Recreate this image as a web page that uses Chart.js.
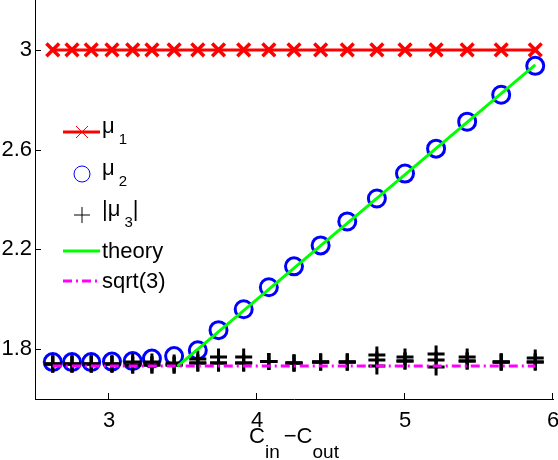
<!DOCTYPE html>
<html>
<head>
<meta charset="utf-8">
<script src="https://cdn.jsdelivr.net/npm/chart.js@4.4.1/dist/chart.umd.min.js"></script>
<style>
  html, body { margin: 0; padding: 0; background: #fff; }
  canvas { display: block; }
</style>
</head>
<body>
<canvas id="chart" width="558" height="460"></canvas>
<script>
// x values (c_in - c_out)
const cinMinusCout = [2.62, 2.75, 2.88, 3.02, 3.16, 3.29, 3.44, 3.60, 3.74, 3.91, 4.08, 4.25, 4.43, 4.61, 4.81, 5.00, 5.21, 5.42, 5.65, 5.88];

const mu1 = [3, 3, 3, 3, 3, 3, 3, 3, 3, 3, 3, 3, 3, 3, 3, 3, 3, 3, 3, 3];
const mu2 = [1.748, 1.748, 1.748, 1.750, 1.752, 1.762, 1.772, 1.795, 1.876, 1.960, 2.048, 2.132, 2.216, 2.312, 2.404, 2.504, 2.604, 2.712, 2.820, 2.936];

// |mu3| from several runs (they overlap)
const mu3RunA = [1.740, 1.740, 1.740, 1.740, 1.748, 1.748, 1.744, 1.744, 1.744, 1.744, 1.750, 1.744, 1.748, 1.748, 1.756, 1.752, 1.756, 1.752, 1.748, 1.748];
const mu3RunB = [1.740, 1.740, 1.740, 1.740, 1.736, 1.736, 1.736, 1.760, 1.768, 1.768, 1.750, 1.744, 1.748, 1.748, 1.776, 1.768, 1.780, 1.768, 1.748, 1.764];
const mu3RunC = [1.740, 1.740, 1.740, 1.740, 1.736, 1.736, 1.736, 1.744, 1.744, 1.744, 1.750, 1.744, 1.748, 1.748, 1.732, 1.752, 1.728, 1.752, 1.748, 1.748];

const theoryX = [3.464, 5.88];
const theoryY = [1.732, 2.94];
const sqrt3X = [2.62, 5.88];
const sqrt3Y = [1.732, 1.732];

const xTicks = [3, 4, 5, 6];
const yTicks = [1.8, 2.2, 2.6, 3];
const yTickLabels = ['1.8', '2.2', '2.6', '3'];

// legend text: [main, subscript, after]
const legendLabels = [['μ', '1', ''], ['μ', '2', ''], ['|μ', '3', '|'], ['theory', '', ''], ['sqrt(3)', '', '']];
const xTitleParts = [['C', 'in'], ['−C', 'out']];

const FONT = '"Liberation Sans", Arial, sans-serif';
const pts = (xs, ys) => xs.map((x, i) => ({ x: x, y: ys[i] }));

const plusStyle = (data) => ({
    data: data,
    showLine: false,
    pointStyle: 'cross',
    pointRadius: 8.5,
    pointBorderWidth: 3,
    pointBorderColor: '#000',
    order: 3
});

// legend + inward ticks + subscripted axis title
const extras = {
    id: 'extras',
    afterDraw(chart) {
        const ctx = chart.ctx;
        const { left, bottom } = chart.chartArea;
        const xs = chart.scales.x, ys = chart.scales.y;
        ctx.save();

        // MATLAB style ticks point inward
        ctx.strokeStyle = '#000';
        ctx.lineWidth = 1;
        ctx.beginPath();
        xTicks.forEach(v => {
            const px = Math.round(xs.getPixelForValue(v)) - 0.5;
            ctx.moveTo(px, bottom);
            ctx.lineTo(px, bottom - 6);
        });
        yTicks.forEach(v => {
            const py = Math.round(ys.getPixelForValue(v)) + 0.5;
            ctx.moveTo(left, py);
            ctx.lineTo(left + 6, py);
        });
        ctx.stroke();

        // legend
        const rowY = [132, 174, 215, 251, 281];
        const x0 = 63, x1 = 100, cx = 82, textX = 102;
        rowY.forEach((y, i) => {
            ctx.save();
            if (i === 0) {
                ctx.strokeStyle = '#ff0000'; ctx.lineWidth = 3;
                ctx.beginPath(); ctx.moveTo(x0, y); ctx.lineTo(x1, y); ctx.stroke();
                ctx.lineWidth = 1;
                ctx.beginPath();
                ctx.moveTo(cx - 6, y - 6); ctx.lineTo(cx + 6, y + 6);
                ctx.moveTo(cx - 6, y + 6); ctx.lineTo(cx + 6, y - 6);
                ctx.stroke();
            } else if (i === 1) {
                ctx.strokeStyle = '#0000ff'; ctx.lineWidth = 1;
                ctx.beginPath(); ctx.arc(cx, y, 8, 0, Math.PI * 2); ctx.stroke();
            } else if (i === 2) {
                ctx.strokeStyle = '#000'; ctx.lineWidth = 1;
                ctx.beginPath();
                ctx.moveTo(cx - 8, y); ctx.lineTo(cx + 8, y);
                ctx.moveTo(cx, y - 8); ctx.lineTo(cx, y + 8);
                ctx.stroke();
            } else if (i === 3) {
                ctx.strokeStyle = '#00ff00'; ctx.lineWidth = 3;
                ctx.beginPath(); ctx.moveTo(x0, y); ctx.lineTo(x1, y); ctx.stroke();
            } else {
                ctx.strokeStyle = '#ff00ff'; ctx.lineWidth = 3;
                ctx.setLineDash([9, 4, 2, 4]);
                ctx.beginPath(); ctx.moveTo(x0, y); ctx.lineTo(x1, y); ctx.stroke();
            }
            ctx.restore();

            const [main, sub, after] = legendLabels[i];
            ctx.fillStyle = '#000';
            ctx.textAlign = 'left';
            ctx.textBaseline = 'alphabetic';
            ctx.font = '22px ' + FONT;
            if (sub) {
                ctx.fillText(main, textX, y + 1);
                let tx = textX + ctx.measureText(main).width + 4;
                ctx.font = '15px ' + FONT;
                ctx.fillText(sub, tx, y + 12);
                tx += ctx.measureText(sub).width;
                ctx.font = '22px ' + FONT;
                if (after) ctx.fillText(after, tx, y + 1);
            } else {
                ctx.fillText(main, textX, y + 7);
            }
        });

        // x axis title C_in -C_out
        const mainFont = '22px ' + FONT, subFont = '19px ' + FONT;
        let total = 0;
        xTitleParts.forEach(([m, s], i) => {
            ctx.font = mainFont; total += ctx.measureText(m).width;
            ctx.font = subFont; total += ctx.measureText(s).width;
            if (i < xTitleParts.length - 1) total += 4;
        });
        let tx = (chart.chartArea.left + chart.chartArea.right) / 2 - total / 2;
        ctx.fillStyle = '#000';
        ctx.textAlign = 'left';
        xTitleParts.forEach(([m, s]) => {
            ctx.font = mainFont; ctx.fillText(m, tx, 443); tx += ctx.measureText(m).width;
            ctx.font = subFont; ctx.fillText(s, tx, 458); tx += ctx.measureText(s).width + 4;
        });

        ctx.restore();
    }
};

Chart.defaults.font.family = FONT;

new Chart(document.getElementById('chart').getContext('2d'), {
    type: 'scatter',
    data: {
        datasets: [
            {
                data: pts(cinMinusCout, mu1),
                showLine: true,
                borderColor: '#ff0000',
                borderWidth: 3,
                pointStyle: 'crossRot',
                pointRadius: 9,
                pointBorderWidth: 3.5,
                pointBorderColor: '#ff0000',
                order: 5
            },
            {
                data: pts(cinMinusCout, mu2),
                showLine: false,
                pointStyle: 'circle',
                pointRadius: 8.5,
                pointBorderWidth: 3,
                pointBorderColor: '#0000ff',
                pointBackgroundColor: 'rgba(0,0,0,0)',
                order: 4
            },
            plusStyle(pts(cinMinusCout, mu3RunA)),
            plusStyle(pts(cinMinusCout, mu3RunB)),
            plusStyle(pts(cinMinusCout, mu3RunC)),
            {
                data: pts(theoryX, theoryY),
                showLine: true,
                borderColor: '#00ff00',
                borderWidth: 3,
                pointRadius: 0,
                order: 2
            },
            {
                data: pts(sqrt3X, sqrt3Y),
                showLine: true,
                borderColor: '#ff00ff',
                borderWidth: 3,
                borderDash: [9, 4, 2, 4],
                pointRadius: 0,
                order: 1
            }
        ]
    },
    options: {
        responsive: false,
        animation: false,
        events: [],
        layout: { autoPadding: false, padding: { left: 0, right: 5, top: 0, bottom: 0 } },
        plugins: { legend: { display: false }, tooltip: { enabled: false } },
        scales: {
            x: {
                type: 'linear',
                min: 2.5,
                max: 6,
                border: { display: true, color: '#000', width: 1 },
                grid: { display: false, drawTicks: false },
                ticks: { color: '#000', font: { size: 22 }, padding: 9, maxRotation: 0 },
                afterBuildTicks: s => { s.ticks = xTicks.map(v => ({ value: v })); },
                afterFit: s => { s.height = 61; s.paddingLeft = 0; s.paddingRight = 0; }
            },
            y: {
                type: 'linear',
                min: 1.6,
                max: 3.2,
                border: { display: true, color: '#000', width: 1 },
                grid: { display: false, drawTicks: false },
                ticks: { color: '#000', font: { size: 22 }, padding: 3, callback: (v, i) => yTickLabels[i] },
                afterBuildTicks: s => { s.ticks = yTicks.map(v => ({ value: v })); },
                afterFit: s => { s.width = 35; s.paddingTop = 0; s.paddingBottom = 0; }
            }
        }
    },
    plugins: [extras]
});
</script>
</body>
</html>
